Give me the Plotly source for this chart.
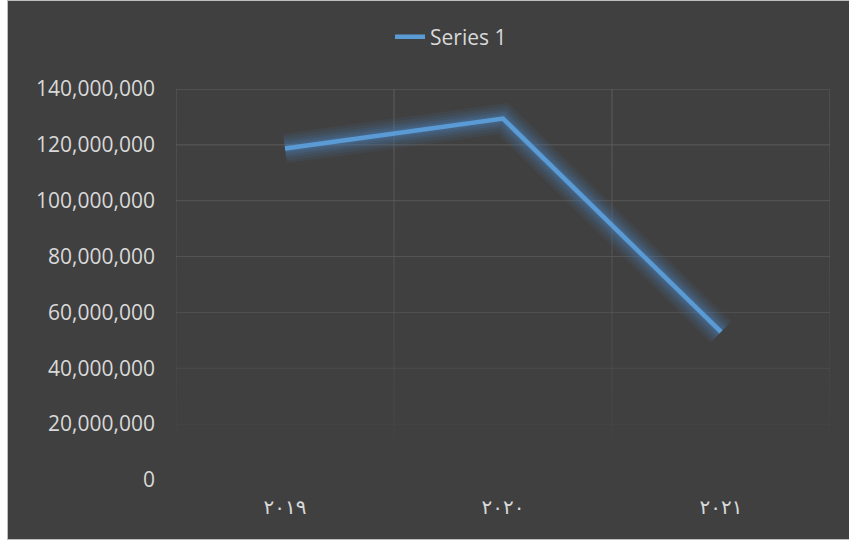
import plotly.graph_objects as go
import numpy as np

categories = ["٢٠١٩", "٢٠٢٠", "٢٠٢١"]
series_name = "Series 1"
values = [118700000, 129400000, 53000000]
y_ticks = [0, 20000000, 40000000, 60000000, 80000000, 100000000, 120000000, 140000000]

BG = "#404040"
TXT = "#d9d9d9"
LINE = "#5b9bd5"
GRID = "#5e5e5e"
W, H = 849, 542
L, R, T, B = 176, 19, 89, 62
pw, ph = W - L - R, H - T - B
YMAX = 140000000

def px_x(p):
    return (p - L) / pw

def px_y(p):
    return (H - B - p) / ph

def fade(y):
    v = (y - 14e6) / (YMAX - 14e6)
    return float(np.clip(v, 0, 1)) ** 0.6

fig = go.Figure()

# glow layers
for w, op in [(30, 0.09), (24, 0.11), (18, 0.14), (13, 0.18), (8, 0.25)]:
    fig.add_trace(go.Scatter(x=categories, y=values, mode="lines",
                             line=dict(color="#4a80b8", width=w),
                             opacity=op, showlegend=False, hoverinfo="skip"))
fig.add_trace(go.Scatter(x=categories, y=values, mode="lines", name=series_name,
                         line=dict(color=LINE, width=4.5)))

shapes = []
# dark chart area with light border
shapes.append(dict(type="rect", xref="paper", yref="paper",
                   x0=px_x(7.5), x1=px_x(W + 5), y0=px_y(539.5), y1=px_y(0.5),
                   fillcolor=BG, line=dict(color="#bfbfbf", width=1), layer="below"))

# horizontal gridlines with gradient fade
for t in y_ticks:
    op = fade(t)
    if op <= 0:
        continue
    shapes.append(dict(type="line", xref="paper", yref="y", x0=0, x1=1, y0=t, y1=t,
                       line=dict(color=GRID, width=1), opacity=op, layer="below"))

# vertical gridlines at category boundaries with gradient fade
n = 40
boundaries = [i - 0.5 for i in range(len(categories) + 1)]
for xb in boundaries:
    for i in range(n):
        y0 = YMAX * i / n
        y1 = YMAX * (i + 1) / n
        op = fade((y0 + y1) / 2)
        if op <= 0:
            continue
        shapes.append(dict(type="line", xref="x", yref="y", x0=xb, x1=xb, y0=y0, y1=y1,
                           line=dict(color=GRID, width=1), opacity=op, layer="below"))

fig.update_layout(
    width=W, height=H,
    margin=dict(l=L, r=R, t=T, b=B),
    paper_bgcolor="white",
    plot_bgcolor="rgba(0,0,0,0)",
    shapes=shapes,
    showlegend=True,
    legend=dict(orientation="h", x=px_x(451), xanchor="center",
                y=px_y(37), yanchor="middle",
                font=dict(family="Open Sans", size=21, color=TXT),
                bgcolor="rgba(0,0,0,0)"),
    xaxis=dict(type="category", categoryorder="array", categoryarray=categories,
               range=[-0.5, 2.5], showgrid=False, showline=False, zeroline=False,
               ticks="", tickfont=dict(family="DejaVu Sans", size=20, color=TXT),
               ticklabelstandoff=13),
    yaxis=dict(range=[0, YMAX], tickvals=y_ticks, tickformat=",d",
               showgrid=False, zeroline=False, showline=False, ticks="",
               tickfont=dict(family="Open Sans", size=21, color=TXT),
               ticklabelstandoff=20),
)

fig.write_html("out.html")
